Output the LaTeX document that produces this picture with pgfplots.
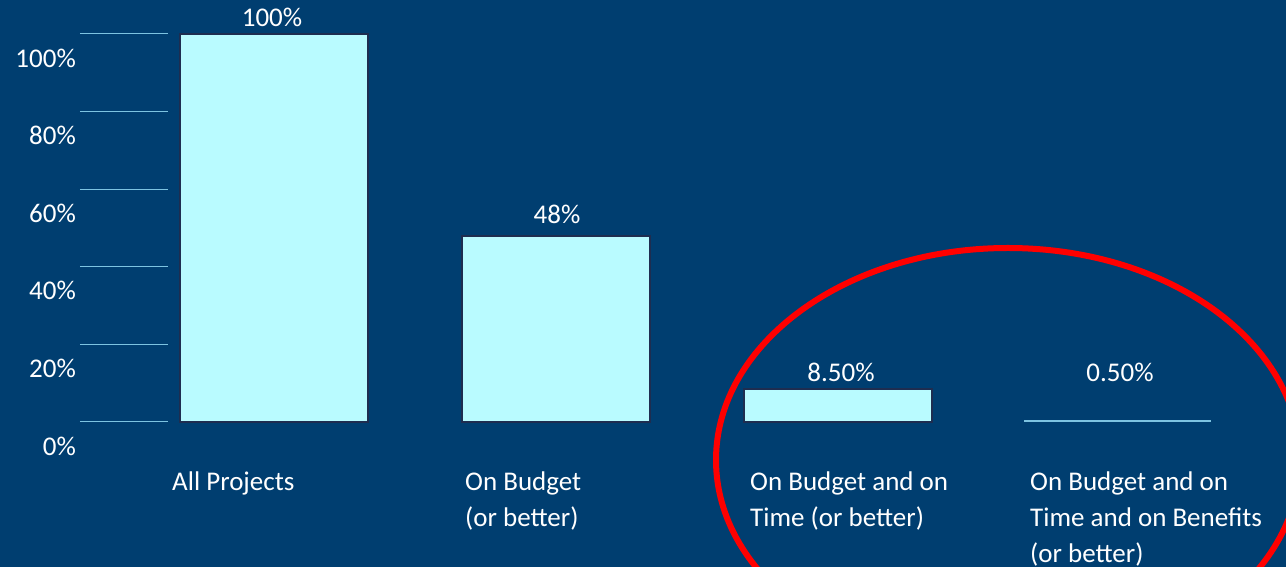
\documentclass[border=0pt]{standalone}
\usepackage{pgfplots}
\pgfplotsset{compat=1.18}
\usepackage{fontspec}
\setmainfont{Carlito}
\definecolor{bgblue}{RGB}{0,62,112}
\definecolor{barcyan}{RGB}{185,251,255}
\definecolor{bardark}{RGB}{30,45,80}
\definecolor{gridblue}{RGB}{125,195,225}
\begin{document}
\begin{tikzpicture}[font=\fontsize{27pt}{36pt}\selectfont]
\path[use as bounding box, fill=bgblue] (0,0) rectangle (1286pt,567pt);
\clip (0,0) rectangle (1286pt,567pt);
% short grid lines and y tick labels
\begin{axis}[
  at={(80pt,105pt)}, anchor=south west,
  x=1pt, y=3.88pt,
  xmin=80, xmax=168, ymin=-10.309, ymax=105,
  axis line style={draw=none}, major tick length=0pt,
  xtick=\empty,
  ytick={0,20,40,60,80,100},
  yticklabels={0\%,20\%,40\%,60\%,80\%,100\%},
  yticklabel style={text=white, inner sep=0pt, xshift=-4pt, yshift=-24pt, font=\fontsize{27pt}{36pt}\selectfont},
  ymajorgrids, grid style={gridblue, line width=1pt},
  clip=false,
]
\addplot[draw=none] coordinates {(80,0) (168,100)};
\end{axis}
% bars
\begin{axis}[
  at={(0pt,105pt)}, anchor=south west,
  x=1pt, y=3.88pt,
  xmin=0, xmax=1286, ymin=-10.309, ymax=105,
  axis line style={draw=none}, major tick length=0pt,
  ytick=\empty,
  xtick={172,465,750,1030},
  xticklabels={All Projects,{On Budget\\(or better)},{On Budget and on\\Time (or better)},{On Budget and on\\Time and on Benefits\\(or better)}},
  xticklabel style={anchor=north west, align=left, inner sep=0pt, yshift=-10pt, text=white, font=\fontsize{27pt}{36pt}\selectfont},
  clip=false,
]
\addplot[ybar, bar width=188, fill=barcyan, draw=bardark, line width=1.5pt]
  coordinates {(274,100) (556,48) (838,8.5)};
\addplot[ybar, bar width=186, fill=gridblue, draw=gridblue, line width=1pt]
  coordinates {(1117,0.5)};
\node[text=white] at (axis cs:272,104.4) {100\%};
\node[text=white] at (axis cs:557,53.6) {48\%};
\node[text=white] at (axis cs:841,12.9) {8.50\%};
\node[text=white] at (axis cs:1120,12.9) {0.50\%};
\end{axis}
\draw[red, line width=6pt] (1008pt,107pt) ellipse [x radius=292pt, y radius=212pt];
\end{tikzpicture}
\end{document}
